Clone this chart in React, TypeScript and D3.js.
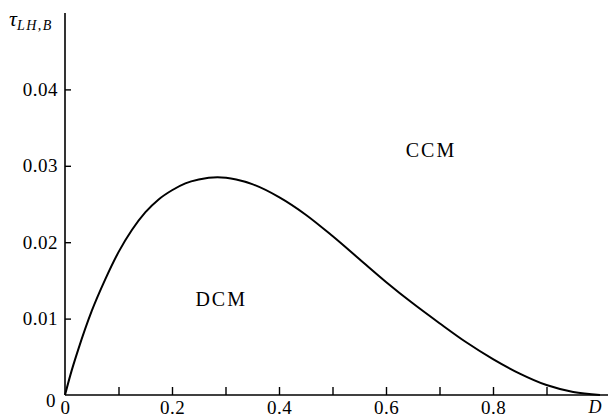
import { useEffect, useRef } from "react";
import * as d3 from "d3";

// duty cycle D vs. boundary time constant
const dutyD = [0, 0.01, 0.025, 0.05, 0.075, 0.1, 0.125, 0.15, 0.175, 0.2, 0.225, 0.25, 0.285, 0.32, 0.35, 0.4, 0.45, 0.5, 0.55, 0.6, 0.65, 0.7, 0.75, 0.8, 0.85, 0.9, 0.95, 1];
const tauB = [0, 0.0026, 0.006, 0.011, 0.0151, 0.0187, 0.0216, 0.0239, 0.0256, 0.0268, 0.0277, 0.0282, 0.0285, 0.0282, 0.0276, 0.0259, 0.0236, 0.0208, 0.0178, 0.0148, 0.012, 0.0094, 0.0069, 0.0047, 0.0028, 0.0013, 0.0004, 0];

const xTicks = [0, 0.1, 0.2, 0.3, 0.4, 0.5, 0.6, 0.7, 0.8, 0.9];
const xLabels = ["0", "", "0.2", "", "0.4", "", "0.6", "", "0.8", ""];
const yTicks = [0, 0.01, 0.02, 0.03, 0.04];
const yLabels = ["0", "0.01", "0.02", "0.03", "0.04"];

const regionLabels = [
  { text: "CCM", D: 0.684, tau: 0.0312 },
  { text: "DCM", D: 0.292, tau: 0.0117 },
];

export default function App() {
  const ref = useRef<SVGSVGElement>(null);

  useEffect(() => {
    if (!ref.current) return;
    const w = 608,
      h = 418;
    const font = "'Liberation Serif', 'Times New Roman', serif";

    const svg = d3.select(ref.current);
    svg.selectAll("*").remove();
    svg.attr("width", w).attr("height", h).attr("viewBox", `0 0 ${w} ${h}`);

    const x = d3.scaleLinear().domain([0, 1]).range([65, 600]);
    const y = d3.scaleLinear().domain([0, 0.05]).range([395, 13]);

    // axes lines
    svg
      .append("line")
      .attr("x1", x(0))
      .attr("x2", w)
      .attr("y1", y(0))
      .attr("y2", y(0))
      .attr("stroke", "#000")
      .attr("stroke-width", 1.6);
    svg
      .append("line")
      .attr("x1", x(0))
      .attr("x2", x(0))
      .attr("y1", y(0))
      .attr("y2", y(0.05))
      .attr("stroke", "#000")
      .attr("stroke-width", 1.6);

    const xAxis = d3
      .axisBottom(x)
      .tickValues(xTicks)
      .tickSizeInner(-8)
      .tickSizeOuter(0)
      .tickPadding(7)
      .tickFormat((_, i) => xLabels[i]);
    const gx = svg.append("g").attr("transform", `translate(0,${y(0)})`).call(xAxis);
    gx.select(".domain").remove();
    gx.selectAll("line").attr("stroke-width", 1.4);
    gx.selectAll("text")
      .attr("font-family", font)
      .attr("font-size", 19)
      .attr("letter-spacing", 0.5)
      .attr("fill", "#000")
      .attr("dy", "0.62em");
    gx.selectAll(".tick").filter((d) => d === 0).select("line").remove();

    const yAxis = d3
      .axisLeft(y)
      .tickValues(yTicks)
      .tickSizeInner(-6)
      .tickSizeOuter(0)
      .tickPadding(7)
      .tickFormat((_, i) => yLabels[i]);
    const gy = svg.append("g").attr("transform", `translate(${x(0)},0)`).call(yAxis);
    gy.select(".domain").remove();
    gy.selectAll("line").attr("stroke-width", 1.4);
    gy.selectAll("text")
      .attr("font-family", font)
      .attr("font-size", 19)
      .attr("letter-spacing", 0.5)
      .attr("fill", "#000");
    gy.selectAll(".tick").filter((d) => d === 0).select("line").remove();
    gy.selectAll(".tick").filter((d) => d === 0).select("text").attr("dy", "0.6em").attr("x", -9);

    // boundary curve
    const line = d3
      .line<number>()
      .x((_, i) => x(dutyD[i]))
      .y((d) => y(d))
      .curve(d3.curveMonotoneX);
    svg
      .append("path")
      .attr("d", line(tauB))
      .attr("fill", "none")
      .attr("stroke", "#000")
      .attr("stroke-width", 2);

    svg
      .selectAll("text.region")
      .data(regionLabels)
      .join("text")
      .attr("class", "region")
      .attr("x", (d) => x(d.D))
      .attr("y", (d) => y(d.tau))
      .attr("text-anchor", "middle")
      .attr("font-family", font)
      .attr("font-size", 20)
      .attr("letter-spacing", 2)
      .text((d) => d.text);

    // axis titles
    const yt = svg.append("text").attr("x", 9).attr("y", 26).attr("font-family", font).attr("fill", "#000");
    yt.append("tspan").attr("font-size", 22).attr("font-style", "italic").text("τ");
    yt.append("tspan")
      .attr("font-size", 14)
      .attr("font-style", "italic")
      .attr("letter-spacing", 1.5)
      .attr("dy", 4)
      .text("LH,B");

    svg
      .append("text")
      .attr("x", 595)
      .attr("y", 413)
      .attr("text-anchor", "middle")
      .attr("font-family", font)
      .attr("font-style", "italic")
      .attr("font-size", 18)
      .text("D");
  }, []);

  return <svg ref={ref} style={{ position: "absolute", left: 0, top: 0, background: "#fff" }} />;
}
